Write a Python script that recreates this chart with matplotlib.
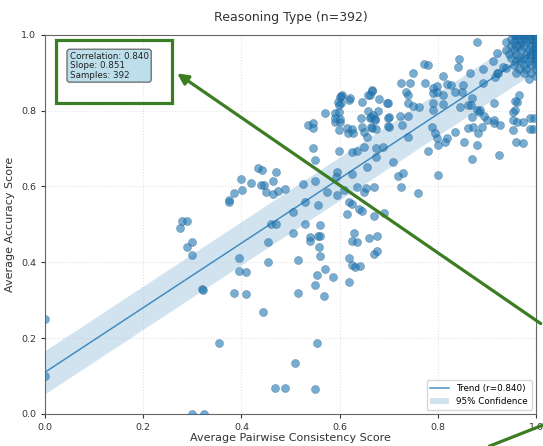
import numpy as np
import matplotlib
matplotlib.use("Agg")
import matplotlib.pyplot as plt
from matplotlib.patches import Rectangle, FancyArrowPatch
from matplotlib.lines import Line2D

n_samples = 392
corr = 0.840
slope = 0.851
intercept = 0.11
ci_half = 0.057

# points, grouped by region
low_x = [0.0, 0.0, 0.275, 0.279, 0.289, 0.289, 0.30, 0.30, 0.32, 0.322, 0.354, 0.30, 0.324,
         0.385, 0.395, 0.395, 0.41, 0.41, 0.444, 0.454, 0.454, 0.46, 0.47, 0.468, 0.489, 0.55,
         0.509, 0.554, 0.515, 0.568, 0.55, 0.554, 0.587, 0.57, 0.619, 0.515, 0.619, 0.625,
         0.631, 0.642, 0.56, 0.558, 0.54, 0.54, 0.556, 0.56, 0.56, 0.53, 0.505, 0.629, 0.625,
         0.635, 0.66, 0.676, 0.67, 0.676, 0.505, 0.53, 0.556, 0.615, 0.67, 0.69, 0.64, 0.645]
low_y = [0.25, 0.10, 0.49, 0.509, 0.509, 0.44, 0.454, 0.42, 0.33, 0.326, 0.187, 0.0, 0.0,
         0.32, 0.41, 0.378, 0.375, 0.316, 0.27, 0.454, 0.40, 0.50, 0.50, 0.069, 0.069, 0.066,
         0.135, 0.187, 0.32, 0.31, 0.34, 0.367, 0.36, 0.383, 0.348, 0.406, 0.41, 0.393,
         0.388, 0.39, 0.417, 0.44, 0.467, 0.456, 0.47, 0.47, 0.499, 0.50, 0.478, 0.478, 0.456,
         0.454, 0.464, 0.47, 0.422, 0.43, 0.533, 0.56, 0.551, 0.528, 0.522, 0.53, 0.541, 0.536]

mid_x = [0.546, 0.55, 0.599, 0.625, 0.635, 0.65, 0.674, 0.688, 0.674, 0.709, 0.656, 0.625,
         0.595, 0.593, 0.719, 0.729, 0.78, 0.80, 0.815, 0.853, 0.88, 0.87, 0.925, 0.96, 0.974,
         0.80, 0.525, 0.55, 0.574, 0.595, 0.609, 0.635, 0.65, 0.654, 0.67, 0.725, 0.76, 0.619,
         0.625, 0.434, 0.442, 0.47, 0.40, 0.42, 0.44, 0.446, 0.464, 0.45, 0.464, 0.475, 0.489,
         0.401, 0.385, 0.375, 0.375, 0.882, 0.914]
mid_y = [0.702, 0.67, 0.694, 0.691, 0.694, 0.705, 0.702, 0.705, 0.678, 0.665, 0.652, 0.633,
         0.639, 0.625, 0.628, 0.636, 0.694, 0.71, 0.718, 0.718, 0.71, 0.673, 0.683, 0.718, 0.715,
         0.63, 0.607, 0.615, 0.586, 0.578, 0.591, 0.599, 0.586, 0.596, 0.599, 0.599, 0.583, 0.56,
         0.554, 0.649, 0.644, 0.639, 0.62, 0.61, 0.604, 0.604, 0.615, 0.586, 0.58, 0.588, 0.594,
         0.591, 0.583, 0.565, 0.56, 0.741, 0.768]

high_x = [0.603, 0.603, 0.619, 0.57, 0.59, 0.599, 0.59, 0.60, 0.536, 0.546, 0.546, 0.599, 0.617,
          0.88, 0.772, 0.78, 0.843, 0.841, 0.92, 0.912, 0.933, 0.749, 0.81, 0.866, 0.892, 0.725,
          0.743, 0.774, 0.819, 0.827, 0.851, 0.892, 0.79, 0.798, 0.735, 0.739, 0.666, 0.662, 0.79,
          0.798, 0.835, 0.849, 0.81, 0.87, 0.605, 0.60, 0.621, 0.68, 0.699, 0.696, 0.739, 0.749,
          0.762, 0.79, 0.81, 0.645, 0.597, 0.599, 0.59, 0.60, 0.658, 0.644, 0.662, 0.672, 0.70,
          0.678, 0.723, 0.739, 0.79, 0.845, 0.862, 0.886, 0.914, 0.87, 0.914, 0.927, 0.957,
          0.961, 0.965, 0.953, 0.988, 0.994, 0.988, 0.953, 0.615, 0.625, 0.627, 0.645, 0.664,
          0.70, 0.727, 0.739, 0.788, 0.798, 0.794, 0.819, 0.835, 0.862, 0.872, 0.89, 0.90,
          0.658, 0.666, 0.664, 0.668, 0.672, 0.666, 0.674, 0.65, 0.656, 0.699, 0.699, 0.868,
          0.88, 0.884, 0.894, 0.957, 0.953, 0.961, 0.974, 0.996, 0.92, 0.917, 0.923, 0.94]
high_y = [0.839, 0.82, 0.828, 0.794, 0.794, 0.797, 0.77, 0.77, 0.762, 0.768, 0.755, 0.749, 0.741,
          0.982, 0.924, 0.921, 0.937, 0.916, 0.953, 0.931, 0.916, 0.90, 0.892, 0.90, 0.91, 0.873,
          0.873, 0.873, 0.871, 0.868, 0.868, 0.873, 0.86, 0.865, 0.85, 0.842, 0.855, 0.842, 0.847,
          0.85, 0.85, 0.85, 0.842, 0.834, 0.842, 0.836, 0.834, 0.831, 0.82, 0.82, 0.82, 0.813,
          0.81, 0.82, 0.818, 0.823, 0.823, 0.815, 0.78, 0.778, 0.80, 0.78, 0.78, 0.778, 0.784,
          0.80, 0.786, 0.786, 0.802, 0.81, 0.815, 0.802, 0.82, 0.784, 0.776, 0.763, 0.802,
          0.823, 0.842, 0.776, 0.78, 0.752, 0.752, 0.749, 0.755, 0.752, 0.741, 0.757, 0.757,
          0.757, 0.762, 0.731, 0.757, 0.728, 0.741, 0.728, 0.744, 0.755, 0.757, 0.757, 0.776,
          0.842, 0.852, 0.784, 0.789, 0.776, 0.755, 0.752, 0.744, 0.731, 0.781, 0.76, 0.814,
          0.802, 0.797, 0.786, 0.826, 0.797, 0.770, 0.77, 0.78, 0.90, 0.889, 0.90, 0.913]

cluster_x = [0.955, 0.965, 0.975, 0.985, 0.995, 1.0, 1.0, 0.97, 0.99, 0.96, 1.0, 0.98,
             0.95, 0.96, 0.975, 0.99, 1.0, 0.985, 0.965,
             0.94, 0.955, 0.97, 0.98, 0.995, 1.0, 1.0,
             0.95, 0.965, 0.975, 0.99, 1.0, 0.96,
             0.94, 0.955, 0.97, 0.985, 1.0, 0.995,
             0.945, 0.96, 0.98, 0.99, 1.0,
             0.95, 0.965, 0.975, 0.99, 1.0, 1.0,
             0.96, 0.97, 0.985, 1.0,
             0.955, 0.975, 0.99, 1.0,
             0.965, 0.98, 1.0,
             0.96, 0.975, 0.99, 0.985, 1.0,
             1.0, 1.0, 1.0, 1.0, 1.0, 1.0, 1.0, 1.0, 1.0, 1.0]
cluster_y = [1.0, 1.0, 1.0, 1.0, 1.0, 1.0, 1.0, 1.0, 1.0, 1.0, 1.0, 1.0,
             0.99, 0.99, 0.99, 0.99, 0.99, 0.99, 0.99,
             0.98, 0.98, 0.98, 0.98, 0.98, 0.98, 0.98,
             0.97, 0.97, 0.97, 0.97, 0.97, 0.97,
             0.96, 0.96, 0.96, 0.96, 0.96, 0.96,
             0.95, 0.95, 0.95, 0.95, 0.95,
             0.94, 0.94, 0.94, 0.94, 0.94, 0.94,
             0.93, 0.93, 0.93, 0.93,
             0.92, 0.92, 0.92, 0.92,
             0.91, 0.91, 0.91,
             0.90, 0.90, 0.90, 0.884, 0.89,
             1.0, 1.0, 1.0, 1.0, 1.0, 0.99, 0.98, 0.97, 0.96, 0.95]

x = np.array(low_x + mid_x + high_x + cluster_x)
y = np.array(low_y + mid_y + high_y + cluster_y)

fig = plt.figure(figsize=(5.43, 4.46), dpi=100)
ax = fig.add_axes([0.083, 0.072, 0.904, 0.85])

ax.scatter(x, y, s=34, c='#1f77b4', alpha=0.6, edgecolors='#1f4e79', linewidths=0.3,
           zorder=3, clip_on=True)

xl = np.linspace(0, 1, 100)
yl = intercept + slope * xl
ax.plot(xl, yl, color='#1f77b4', lw=1.1, alpha=0.8, label=f'Trend (r={corr:.3f})', zorder=2)
ax.fill_between(xl, yl - ci_half, yl + ci_half, color='#1f77b4', alpha=0.2, lw=0,
                label='95% Confidence', zorder=1)

ax.set_xlim(0, 1)
ax.set_ylim(0, 1)
ax.set_xticks([0, 0.2, 0.4, 0.6, 0.8, 1.0])
ax.set_yticks([0, 0.2, 0.4, 0.6, 0.8, 1.0])
ax.tick_params(labelsize=6.8, colors='#333333', length=3)
ax.grid(True, linestyle=':', alpha=0.35)
for sp in ax.spines.values():
    sp.set_color('#666666')

ax.set_xlabel('Average Pairwise Consistency Score', fontsize=8, color='#333333', labelpad=1)
ax.set_ylabel('Average Accuracy Score', fontsize=8, color='#333333', labelpad=4)
ax.set_title(f'Reasoning Type (n={n_samples})', fontsize=9, color='#333333', pad=10)

ax.text(0.05, 0.955, f'Correlation: {corr:.3f}\nSlope: {slope:.3f}\nSamples: {n_samples}',
        transform=ax.transAxes, fontsize=6.3, va='top', ha='left', color='#222222',
        linespacing=1.05,
        bbox=dict(boxstyle='round,pad=0.3', facecolor='#add8e6', edgecolor='#555555', alpha=0.8))

ax.legend(loc='lower right', fontsize=6.3, framealpha=0.8, handlelength=2.2)

# green callout overlay
green = '#3b7d23'
fig.patches.append(Rectangle((0.103, 0.769), 0.214, 0.141, transform=fig.transFigure,
                             fill=False, edgecolor=green, lw=2.3, zorder=10))
fig.patches.append(FancyArrowPatch((1.0, 0.271), (0.322, 0.839), transform=fig.transFigure,
                                   arrowstyle='-|>', mutation_scale=16, color=green, lw=2.3,
                                   zorder=10))
fig.lines.append(Line2D([0.902, 1.0], [0.0, 0.047], transform=fig.transFigure,
                        color=green, lw=2.3, zorder=10))

fig.savefig('out.png', dpi=100)
